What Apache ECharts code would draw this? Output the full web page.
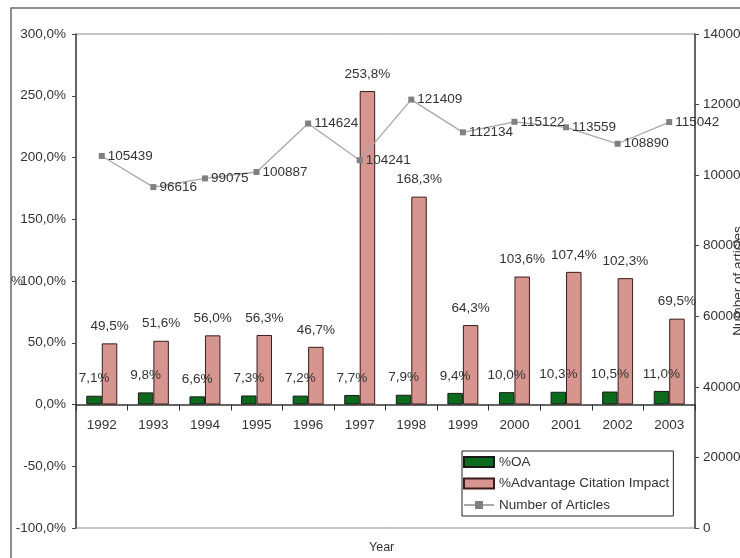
<!DOCTYPE html>
<html>
<head>
<meta charset="utf-8">
<script src="https://cdn.jsdelivr.net/npm/echarts@6/dist/echarts.min.js"></script>
<style>
  html, body { margin: 0; padding: 0; background: #fff; }
  #chart { width: 740px; height: 558px; }
</style>
</head>
<body>
<div id="chart"></div>
<script>
// Open access share, citation advantage and article counts per year
const years = ['1992', '1993', '1994', '1995', '1996', '1997', '1998', '1999', '2000', '2001', '2002', '2003'];
const pctOA = [7.1, 9.8, 6.6, 7.3, 7.2, 7.7, 7.9, 9.4, 10.0, 10.3, 10.5, 11.0];
const pctAdvantage = [49.5, 51.6, 56.0, 56.3, 46.7, 253.8, 168.3, 64.3, 103.6, 107.4, 102.3, 69.5];
const articles = [105439, 96616, 99075, 100887, 114624, 104241, 121409, 112134, 115122, 113559, 108890, 115042];

const FONT = 'Liberation Sans, Arial, sans-serif';
const FS = 13.5;
const TXT = '#333';
const pct = v => v.toFixed(1).replace('.', ',') + '%';

const chart = echarts.init(document.getElementById('chart'), null, { renderer: 'canvas' });

chart.setOption({
  backgroundColor: '#fff',
  animation: false,
  textStyle: { fontFamily: FONT },
  graphic: [{
    type: 'rect',
    shape: { x: 11, y: 8, width: 760, height: 580 },
    style: { fill: 'none', stroke: '#6a6a6a', lineWidth: 1.5 },
    silent: true
  }, {
    // horizontal axis title
    type: 'text',
    left: 369,
    top: 541,
    style: { text: 'Year', fontFamily: FONT, fontSize: 12.5, fill: TXT },
    silent: true
  }],
  grid: {
    left: 76, right: 45, top: 34, bottom: 30,
    outerBoundsMode: 'none',
    containLabel: false,
    show: true, borderColor: '#8a8a8a', borderWidth: 1, backgroundColor: 'transparent'
  },
  legend: {
    orient: 'vertical',
    left: 462, top: 451,
    backgroundColor: '#fff',
    borderColor: '#222', borderWidth: 1,
    padding: [4, 4, 4, 1],
    itemGap: 7.5,
    itemWidth: 30, itemHeight: 10,
    textStyle: { fontFamily: FONT, fontSize: FS, color: TXT },
    data: [
      { name: '%OA', icon: 'rect' },
      { name: '%Advantage Citation Impact', icon: 'rect' },
      { name: 'Number of Articles' }
    ]
  },
  xAxis: {
    type: 'category',
    data: years,
    axisLine: { onZero: true, onZeroAxisIndex: 0, lineStyle: { color: '#333', width: 1.5 } },
    axisTick: { show: true, length: 6, lineStyle: { color: '#333' } },
    axisLabel: { fontFamily: FONT, fontSize: FS, color: TXT, margin: -110 },
    splitLine: { show: false }
  },
  yAxis: [{
    type: 'value',
    min: -100, max: 300, interval: 50,
    name: '%',
    nameLocation: 'middle',
    nameRotate: 0,
    nameGap: 53,
    nameMoveOverlap: false,
    nameTextStyle: { fontFamily: FONT, fontSize: FS, color: TXT },
    axisLine: { show: true, lineStyle: { color: '#444', width: 1.5 } },
    axisTick: { show: true, length: 4, lineStyle: { color: '#444' } },
    axisLabel: { fontFamily: FONT, fontSize: FS, color: TXT, margin: 10, formatter: v => pct(v) },
    splitLine: { show: false }
  }, {
    type: 'value',
    min: 0, max: 140000, interval: 20000,
    position: 'right',
    name: 'Number of articles',
    nameLocation: 'middle',
    nameRotate: 90,
    nameGap: 36,
    nameMoveOverlap: false,
    nameTextStyle: { fontFamily: FONT, fontSize: FS, color: TXT },
    axisLine: { show: true, lineStyle: { color: '#444', width: 1.5 } },
    axisTick: { show: true, length: 4, lineStyle: { color: '#444' } },
    axisLabel: { fontFamily: FONT, fontSize: FS, color: TXT, margin: 8, formatter: v => String(v) },
    splitLine: { show: false }
  }],
  series: [{
    name: '%OA',
    type: 'bar',
    yAxisIndex: 0,
    data: pctOA,
    barGap: '0%',
    barCategoryGap: '40%',
    itemStyle: { color: '#0b6a1c', borderColor: '#1a1a1a', borderWidth: 1 },
    label: {
      show: true, position: 'top', distance: 10,
      fontFamily: FONT, fontSize: FS, color: TXT,
      formatter: p => pct(p.value)
    },
    z: 2
  }, {
    name: '%Advantage Citation Impact',
    type: 'bar',
    yAxisIndex: 0,
    data: pctAdvantage,
    itemStyle: { color: '#d7958f', borderColor: '#3a1c1c', borderWidth: 1 },
    label: {
      show: true, position: 'top', distance: 10,
      fontFamily: FONT, fontSize: FS, color: TXT,
      formatter: p => pct(p.value)
    },
    z: 2
  }, {
    name: 'Number of Articles',
    type: 'line',
    yAxisIndex: 1,
    data: articles,
    symbol: 'rect',
    symbolSize: 6,
    lineStyle: { color: '#a8a8a8', width: 1.3 },
    itemStyle: { color: '#808080' },
    label: {
      show: true, position: 'right', distance: 3,
      fontFamily: FONT, fontSize: FS, color: TXT
    },
    z: 3
  }]
});
</script>
</body>
</html>
